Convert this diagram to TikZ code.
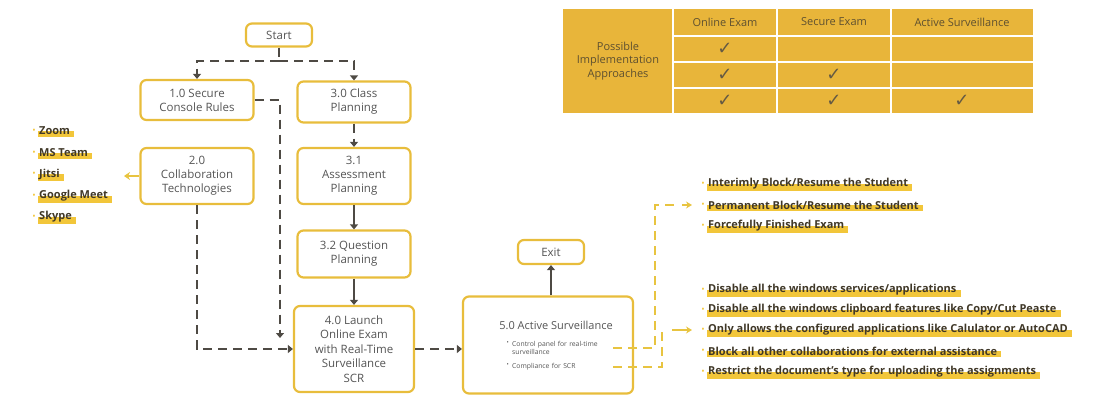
\documentclass[tikz,border=0pt]{standalone}
\usepackage{fontspec}
\setmainfont{Open Sans}
\newfontfamily\symf{DejaVu Sans}
\usetikzlibrary{arrows.meta,backgrounds,calc}
\definecolor{gold}{HTML}{E8B53A}
\definecolor{ybord}{HTML}{E8BD3C}
\definecolor{dkc}{HTML}{4E4A44}
\definecolor{txt}{HTML}{555555}
\definecolor{hlc}{HTML}{F2C63A}
\definecolor{ydash}{HTML}{E8C440}
\definecolor{ltxt}{HTML}{403828}
\definecolor{ttxt}{HTML}{5E5030}
\begin{document}
\begin{tikzpicture}[x=1pt,y=-1pt,
  box/.style={draw=ybord,line width=2.2pt,rounded corners=6pt,fill=white,text=txt,align=center,
    font=\fontsize{11.5}{14}\selectfont,inner sep=2pt},
  dk/.style={draw=dkc,line width=2.8pt},
  dsh/.style={dk,dash pattern=on 9pt off 6pt},
  tip/.style={-{Triangle[length=5pt,width=8pt]}},
  ydsh/.style={draw=ydash,line width=1.5pt,dash pattern=on 9pt off 6pt},
  ytip/.style={-{Stealth[length=6pt,width=7pt]},color=ydash},
  litem/.style={anchor=west,font=\fontsize{11}{12}\selectfont\bfseries,text=ltxt,inner sep=1pt,
    label={[text=hlc,inner sep=2pt,font=\fontsize{9}{11}\selectfont]left:\textbullet}},
  bitem/.style={anchor=west,font=\fontsize{6.8}{8}\selectfont,text=txt,inner sep=1pt,align=left,text width=100pt,
    label={[text=txt,inner sep=2pt,font=\fontsize{6}{7}\selectfont,anchor=north east,yshift=1pt]north west:\textbullet}},
  th/.style={text=ttxt,font=\fontsize{11}{12}\selectfont},
  chk/.style={text=dkc!85!gold,font=\symf\fontsize{18}{18}\selectfont},
]
\useasboundingbox (0,0) rectangle (1093,396);

% ---------- table ----------
\fill[gold] (563,9) rectangle (1033,113);
\draw[white,line width=2pt] (673,9)--(673,113) (777,9)--(777,113) (891,9)--(891,113)
  (673,36)--(1033,36) (673,62)--(1033,62) (673,88)--(1033,88);
\node[th,align=center,font=\fontsize{11}{13.5}\selectfont] (pia) at (618,61) {Possible\\Implementation\\Approaches};
\node[th] (h1) at (725,22) {Online Exam};
\node[th] (h2) at (834,22) {Secure Exam};
\node[th] (h3) at (962,22) {Active Surveillance};
\node[chk] (c11) at (725,49) {✓};
\node[chk] (c21) at (725,75) {✓};
\node[chk] (c22) at (834,75) {✓};
\node[chk] (c31) at (725,101) {✓};
\node[chk] (c32) at (834,101) {✓};
\node[chk] (c33) at (962,101) {✓};

% ---------- flow nodes ----------
\node[box,minimum width=66pt,minimum height=23pt] (start) at (279,35) {Start};
\node[box,minimum width=113pt,minimum height=40pt] (n10) at (197,100) {1.0 Secure\\Console Rules};
\node[box,minimum width=113pt,minimum height=41pt] (n30) at (354,102) {3.0 Class\\Planning};
\node[box,minimum width=113pt,minimum height=56pt] (n20) at (197,176) {2.0\\Collaboration\\Technologies};
\node[box,minimum width=113pt,minimum height=56pt] (n31) at (354,176) {3.1\\Assessment\\Planning};
\node[box,minimum width=113pt,minimum height=47pt] (n32) at (354,254) {3.2 Question\\Planning};
\node[box,minimum width=120pt,minimum height=86pt,font=\fontsize{11.5}{14.5}\selectfont] (n40) at (354,349) {4.0 Launch\\Online Exam\\with Real-Time\\Surveillance\\SCR};
\node[box,minimum width=170pt,minimum height=97pt] (n50) at (548,345) {};
\node[text=txt,font=\fontsize{11}{13}\selectfont] (t50) at (556,325) {5.0 Active Surveillance};
\node[bitem] (b1) at (511,348) {Control panel for real-time\\surveillance};
\node[bitem] (b2) at (511,367) {Compliance for SCR};
\node[box,minimum width=66pt,minimum height=24pt] (exit) at (551,252) {Exit};

% ---------- dark connectors ----------
\coordinate (sj) at (279,61);
\draw[dsh] (start.south) -- (sj);
\draw[dsh,tip] (sj) -| (n10.north);
\draw[dsh,tip] (sj) -| (n30.north);
\coordinate (c1) at (280,338);
\draw[dsh,tip] (n10.east) -| (c1);
\draw[dsh,tip] (n20.south) |- (n40.west);
\draw[dsh,tip] (n30.south) -- (n31.north);
\draw[dk,tip] (n31.south) -- (n32.north);
\draw[dk,tip] (n32.south) -- (n40.north);
\draw[dsh,tip] (n40.east) -- (n40.east -| n50.west);
\draw[dk,tip] (n50.north -| exit.south) -- (exit.south);

% ---------- left list ----------
\coordinate (a0) at (124,176);
\draw[ydash,line width=2pt,-{Stealth[length=6pt,width=8pt]}] (n20.west) -- (a0);
\node[litem] (z1) at (38,131) {Zoom};
\node[litem] (z2) at (38,153) {MS Team};
\node[litem] (z3) at (38,174) {Jitsi};
\node[litem] (z4) at (38,196) {Google Meet};
\node[litem] (z5) at (38,217) {Skype};

% ---------- right lists ----------
\node[litem] (r1) at (707,184) {Interimly Block/Resume the Student};
\node[litem] (r2) at (707,205) {Permanent Block/Resume the Student};
\node[litem] (r3) at (707,226) {Forcefully Finished Exam};
\node[litem] (s1) at (707,290) {Disable all the windows services/applications};
\node[litem] (s2) at (707,310) {Disable all the windows clipboard features like Copy/Cut Peaste};
\node[litem] (s3) at (707,330) {Only allows the configured applications like Calulator or AutoCAD};
\node[litem] (s4) at (707,351) {Block all other collaborations for external assistance};
\node[litem] (s5) at (707,372) {Restrict the document's type for uploading the assignments};

\begin{scope}[on background layer]
\foreach \n in {z1,z2,z3,z4,z5,r1,r2,r3,s1,s2,s3,s4,s5}{
  \fill[hlc] ($(\n.west)+(0,-0.5)$) rectangle ($(\n.south east)+(3,0.5)$);
}
\end{scope}

% ---------- yellow connectors ----------
\coordinate (k1) at (655,205);
\coordinate (a1) at (692,205);
\draw[ydsh] (b1.east) -| (k1) -- ($(a1)+(-14,0)$);
\draw[ydash,line width=1.5pt,ytip] ($(a1)+(-10,0)$) -- (a1);
\coordinate (k2) at (662,330);
\coordinate (a2) at (692,330);
\draw[ydsh] (b2.east) -| (k2);
\draw[color=orange!80!ydash,line width=1.5pt,ytip] ($(a2)+(-20,0)$) -- (a2);
\end{tikzpicture}
\end{document}
